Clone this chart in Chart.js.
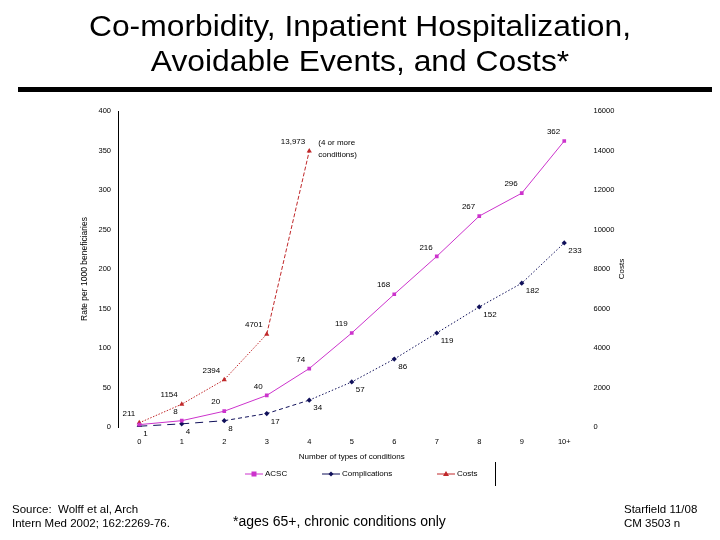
<!DOCTYPE html>
<html>
<head>
<meta charset="utf-8">
<script src="https://cdn.jsdelivr.net/npm/chart.js@4.4.1/dist/chart.umd.min.js"></script>
<style>
    body { margin:0; background:#fff; font-family:"Liberation Sans", Arial, sans-serif; }
    #wrap { position:relative; width:720px; height:540px; overflow:hidden; }
    #title { position:absolute; left:0; top:8px; width:720px; text-align:center;
             font-size:30px; line-height:35px; color:#000;
             transform:scaleX(1.06); transform-origin:360px 0; }
    #rule { position:absolute; left:18px; top:87px; width:694px; height:5px; background:#000; }
    #chart { position:absolute; left:0; top:0; }
    .foot { position:absolute; font-size:11.5px; line-height:14px; color:#000; }
</style>
</head>
<body>
<div id="wrap">
    <canvas id="chart" width="720" height="540"></canvas>
    <div id="title">Co-morbidity, Inpatient Hospitalization,<br>Avoidable Events, and Costs*</div>
    <div id="rule"></div>
    <div class="foot" style="left:12px; top:502px;">Source:&nbsp; Wolff et al, Arch<br>Intern Med 2002; 162:2269-76.</div>
    <div class="foot" style="left:233px; top:514px; font-size:14px;">*ages 65+, chronic conditions only</div>
    <div class="foot" style="left:624px; top:502px;">Starfield 11/08<br>CM 3503 n</div>
</div>
<script>

// ======================================================
// Data
// ======================================================

const conditions = ["0", "1", "2", "3", "4", "5", "6", "7", "8", "9", "10+"];

const acsc = [3, 8, 20, 40, 74, 119, 168, 216, 267, 296, 362];

const complications = [1, 4, 8, 17, 34, 57, 86, 119, 152, 182, 233];

const costs = [211, 1154, 2394, 4701, 13973, null, null, null, null, null, null];

const rateTicks = [0, 50, 100, 150, 200, 250, 300, 350, 400];

const costTicks = [0, 2000, 4000, 6000, 8000, 10000, 12000, 14000, 16000];

// ======================================================
// Colours
// ======================================================

const MAGENTA = "#cc33cc";
const NAVY = "#10105a";
const RED = "#c0282a";

const tickFont = { family:"Liberation Sans", size:7.5 };

// ======================================================
// Point labels + extra text
// ======================================================

const labelStyle = [
    { dx:-4, dy:-9, align:"right", skip:[0] },
    { dx:4, dy:8, align:"left", skip:[] },
    { dx:-4, dy:-9, align:"right", skip:[] }
];

const extrasPlugin = {

    id:"extras",

    afterDatasetsDraw(chart) {

        const ctx = chart.ctx;

        ctx.save();
        ctx.fillStyle = "#000";
        ctx.font = "8px 'Liberation Sans'";
        ctx.textBaseline = "middle";

        chart.data.datasets.forEach((ds, i) => {

            const st = labelStyle[i];
            const meta = chart.getDatasetMeta(i);

            meta.data.forEach((pt, j) => {

                const v = ds.data[j];

                if (v === null || st.skip.includes(j)) return;

                const txt = v >= 10000 ? v.toLocaleString("en-US") : String(v);

                ctx.textAlign = st.align;
                ctx.fillText(txt, pt.x + st.dx, pt.y + st.dy);

            });

        });

        // note next to the last cost point
        const last = chart.getDatasetMeta(2).data[4];
        ctx.textAlign = "left";
        ctx.fillText("(4 or more", last.x + 9, last.y - 8);
        ctx.fillText("conditions)", last.x + 9, last.y + 4);

        // right axis title, reading upward
        const y2 = chart.scales.y2;
        ctx.save();
        ctx.translate(y2.right - 8, (y2.top + y2.bottom) / 2);
        ctx.rotate(-Math.PI / 2);
        ctx.textAlign = "center";
        ctx.font = "8px 'Liberation Sans'";
        ctx.fillText("Costs", 0, 0);
        ctx.restore();

        // legend
        const ly = 474;
        const items = [
            { x:245, text:"ACSC", color:MAGENTA, shape:"square" },
            { x:322, text:"Complications", color:NAVY, shape:"diamond" },
            { x:437, text:"Costs", color:RED, shape:"triangle" }
        ];

        ctx.font = "8px 'Liberation Sans'";
        ctx.textAlign = "left";

        items.forEach(it => {

            ctx.strokeStyle = it.color;
            ctx.fillStyle = it.color;
            ctx.lineWidth = 1;
            ctx.beginPath();
            ctx.moveTo(it.x, ly);
            ctx.lineTo(it.x + 18, ly);
            ctx.stroke();

            const cx = it.x + 9;
            ctx.beginPath();
            if (it.shape === "square") {
                ctx.rect(cx - 2.5, ly - 2.5, 5, 5);
            } else if (it.shape === "diamond") {
                ctx.moveTo(cx, ly - 2.5);
                ctx.lineTo(cx + 2.5, ly);
                ctx.lineTo(cx, ly + 2.5);
                ctx.lineTo(cx - 2.5, ly);
            } else {
                ctx.moveTo(cx, ly - 3);
                ctx.lineTo(cx + 3, ly + 2);
                ctx.lineTo(cx - 3, ly + 2);
            }
            ctx.closePath();
            ctx.fill();

            ctx.fillStyle = "#000";
            ctx.fillText(it.text, it.x + 20, ly);

        });

        ctx.strokeStyle = "#000";
        ctx.lineWidth = 1;
        ctx.beginPath();
        ctx.moveTo(495.5, 462);
        ctx.lineTo(495.5, 486);
        ctx.stroke();

        ctx.restore();

    }

};

// ======================================================
// Chart
// ======================================================

new Chart(

    document.getElementById("chart"),

    {

        type:"line",

        data:{

            labels:conditions,

            datasets:[

                {
                    label:"ACSC",
                    data:acsc,
                    yAxisID:"y",
                    borderColor:MAGENTA,
                    backgroundColor:MAGENTA,
                    borderWidth:1,
                    pointStyle:"rect",
                    pointRadius:2.6,
                    pointBorderWidth:0,
                    tension:0
                },

                {
                    label:"Complications",
                    data:complications,
                    yAxisID:"y",
                    borderColor:NAVY,
                    backgroundColor:NAVY,
                    borderWidth:1,
                    pointStyle:"rectRot",
                    pointRadius:2.6,
                    pointBorderWidth:0,
                    tension:0,
                    segment:{
                        borderDash:c => c.p0DataIndex < 2 ? [8, 6] : (c.p0DataIndex < 4 ? [4, 3] : [1.5, 2])
                    }
                },

                {
                    label:"Costs",
                    data:costs,
                    yAxisID:"y2",
                    borderColor:RED,
                    backgroundColor:RED,
                    borderWidth:1,
                    pointStyle:"triangle",
                    pointRadius:3,
                    pointBorderWidth:0,
                    tension:0,
                    segment:{
                        borderDash:c => c.p0DataIndex < 3 ? [1.5, 1.5] : [4, 2]
                    }
                }

            ]

        },

        options:{

            responsive:false,

            animation:false,

            layout:{
                padding:{ left:80, right:90, top:111, bottom:78 }
            },

            plugins:{
                legend:{ display:false },
                tooltip:{ enabled:false }
            },

            scales:{

                x:{
                    offset:true,
                    grid:{ display:false },
                    border:{ display:false },
                    ticks:{ color:"#000", font:tickFont, padding:2, maxRotation:0 },
                    title:{
                        display:true,
                        text:"Number of types of conditions",
                        color:"#000",
                        font:{ family:"Liberation Sans", size:8 },
                        padding:{ top:2, bottom:0 }
                    },
                    afterFit(scale) { scale.height = 35; }
                },

                y:{
                    position:"left",
                    min:0,
                    max:400,
                    afterBuildTicks(scale) { scale.ticks = rateTicks.map(v => ({ value:v })); },
                    grid:{ display:false, drawTicks:false },
                    border:{ display:true, color:"#000", width:1 },
                    ticks:{ color:"#000", font:tickFont, padding:7 },
                    title:{
                        display:true,
                        text:"Rate per 1000 beneficiaries",
                        color:"#000",
                        font:{ family:"Liberation Sans", size:8.5 },
                        padding:{ top:0, bottom:2 }
                    },
                    afterFit(scale) { scale.width = 38; }
                },

                y2:{
                    position:"right",
                    min:0,
                    max:16000,
                    afterBuildTicks(scale) { scale.ticks = costTicks.map(v => ({ value:v })); },
                    grid:{ display:false, drawTicks:false },
                    border:{ display:false },
                    ticks:{ color:"#000", font:tickFont, padding:8, callback:v => String(v) },
                    afterFit(scale) { scale.width = 44.5; }
                }

            }

        },

        plugins:[extrasPlugin]

    }

);

</script>
</body>
</html>
